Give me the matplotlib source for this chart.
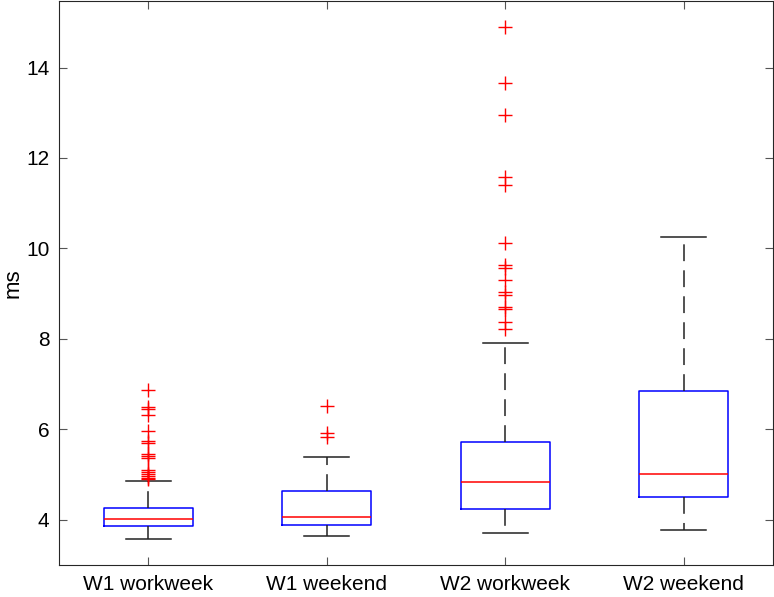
import matplotlib
matplotlib.use('Agg')
import matplotlib.pyplot as plt

plt.rcParams['font.family'] = ['Liberation Sans', 'DejaVu Sans']

# 类别
labels = ['W1 workweek', 'W1 weekend', 'W2 workweek', 'W2 weekend']

# 箱线图统计量 (ms)
q1 = [3.87, 3.89, 4.24, 4.50]
med = [4.02, 4.07, 4.84, 5.02]
q3 = [4.27, 4.64, 5.73, 6.85]
whislo = [3.58, 3.65, 3.71, 3.78]
whishi = [4.85, 5.39, 7.91, 10.25]

# 离群点
fliers_w1_workweek = [6.87, 6.50, 6.45, 6.32, 5.96, 5.75, 5.69, 5.46, 5.41, 5.36,
                      5.10, 5.06, 5.02, 4.97, 4.93, 4.90]
fliers_w1_weekend = [6.52, 5.92, 5.84]
fliers_w2_workweek = [14.90, 13.66, 12.96, 11.58, 11.40, 10.13, 9.64, 9.56, 9.30,
                      9.04, 8.97, 8.71, 8.67, 8.38, 8.21]
fliers_w2_weekend = []
fliers = [fliers_w1_workweek, fliers_w1_weekend, fliers_w2_workweek, fliers_w2_weekend]

stats = []
for i in range(len(labels)):
    stats.append({'label': labels[i], 'q1': q1[i], 'med': med[i], 'q3': q3[i],
                  'whislo': whislo[i], 'whishi': whishi[i], 'fliers': fliers[i]})

fig = plt.figure(figsize=(7.74, 5.97), dpi=100)
ax = fig.add_axes([0.0762, 0.0536, 0.9225, 0.9454])

ax.bxp(stats, positions=[1, 2, 3, 4], widths=0.5, showfliers=True,
       boxprops=dict(color='#0000ff', linewidth=1.1),
       medianprops=dict(color='#ff0000', linewidth=1.1),
       whiskerprops=dict(color='#222222', linewidth=1.1, linestyle=(0, (11, 6))),
       capprops=dict(color='#222222', linewidth=1.1),
       flierprops=dict(marker='+', markersize=10, markeredgecolor='#ff0000',
                       markeredgewidth=1.0, linestyle='none'))

ax.set_xlim(0.5, 4.5)
ax.set_ylim(3.0, 15.48)
ax.set_yticks([4, 6, 8, 10, 12, 14])
ax.set_xticklabels(labels)
ax.set_ylabel('ms', fontsize=16, labelpad=2)

ax.tick_params(direction='in', length=6, width=0.8, color='#555555',
               labelsize=15, top=True, right=True, pad=7)
for s in ax.spines.values():
    s.set_linewidth(0.8)
    s.set_color('#262626')

fig.savefig('out.png', dpi=100)
